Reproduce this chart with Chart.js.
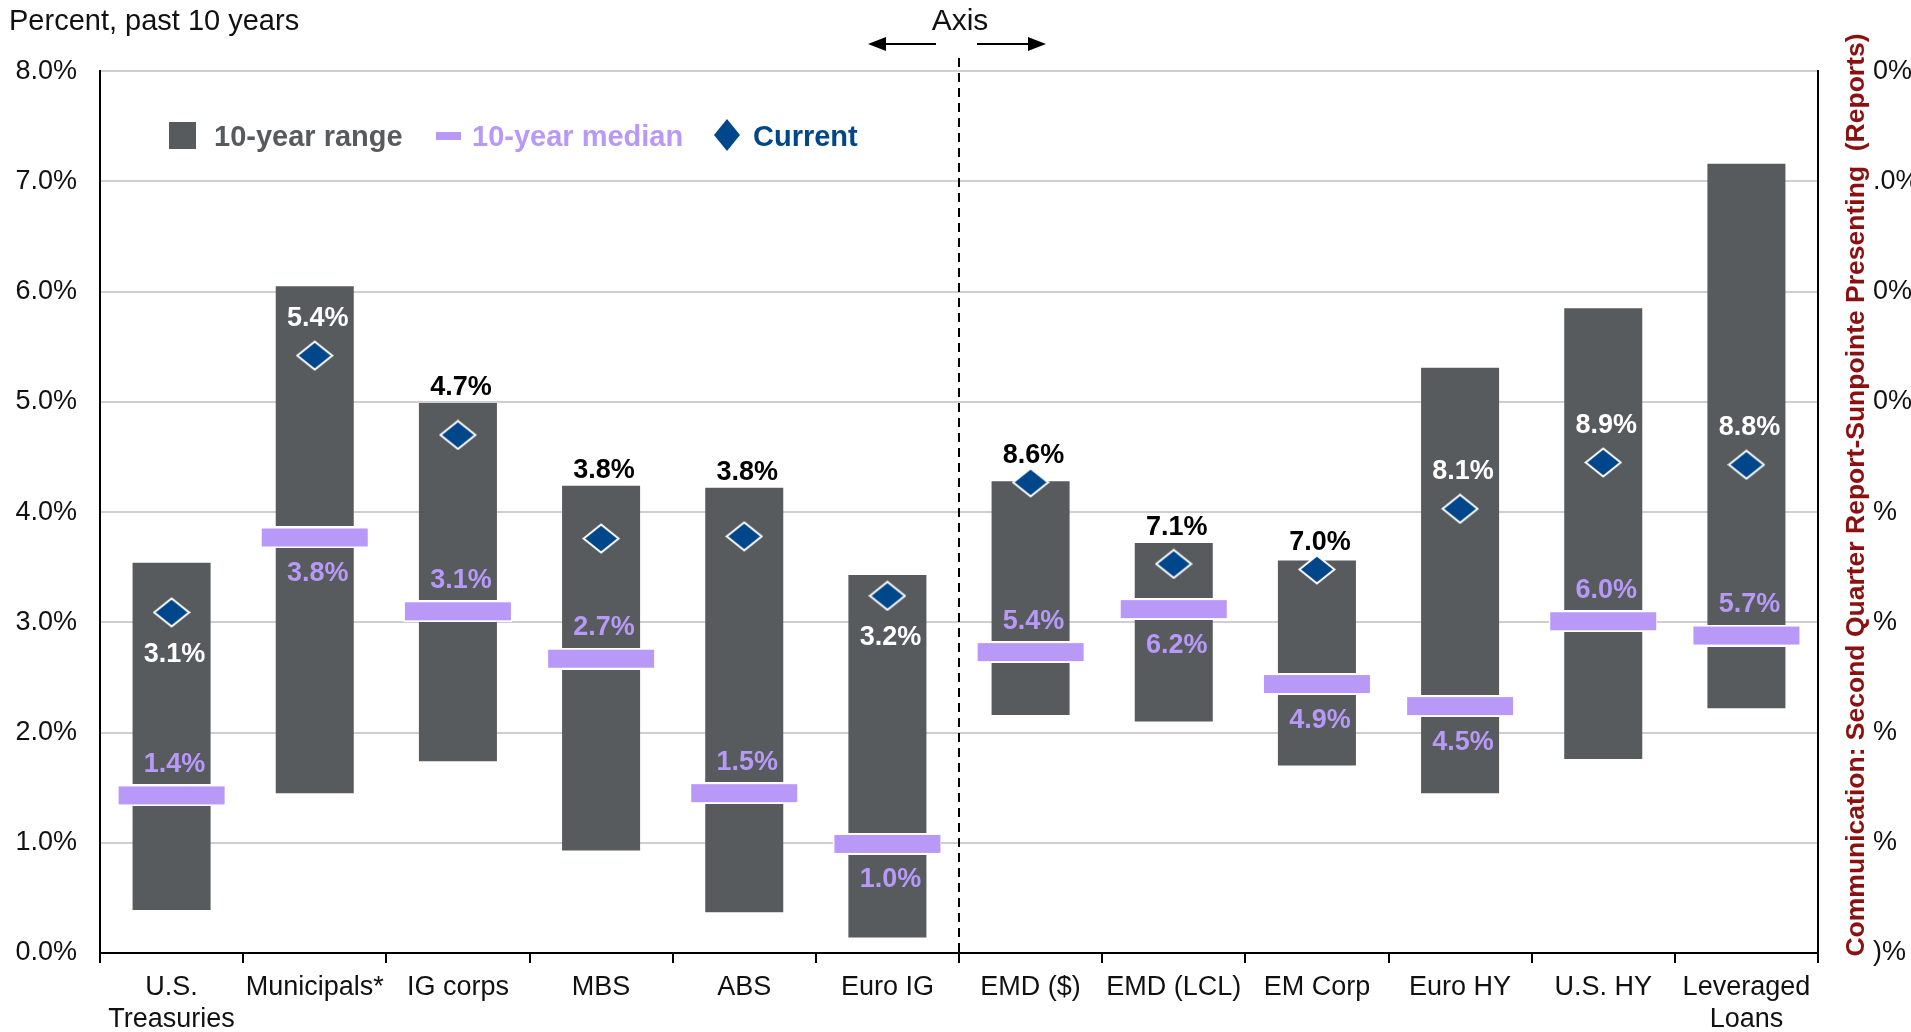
<!DOCTYPE html>
<html>
<head>
<meta charset="utf-8">
<script src="https://cdn.jsdelivr.net/npm/chart.js@4.4.1/dist/chart.umd.min.js"></script>
<style>
  html, body { margin: 0; padding: 0; background: #fff; overflow: hidden; }
  canvas { display: block; }
</style>
</head>
<body>
<canvas id="myChart" width="1911" height="1032"></canvas>
<script>
const FONT = 'Arial, "Liberation Sans", sans-serif';
const GREY = '#575b5e';
const PURPLE = '#b899f7';
const NAVY = '#00468b';

const categories = [['U.S.', 'Treasuries'], 'Municipals*', 'IG corps', 'MBS', 'ABS', 'Euro IG',
  'EMD ($)', 'EMD (LCL)', 'EM Corp', 'Euro HY', 'U.S. HY', ['Leveraged', 'Loans']];

// 10-year range (low / high), median and current, percent
const rangeLow  = [0.39, 1.45, 1.74, 0.93, 0.37, 0.14, 2.16, 2.10, 1.70, 1.45, 1.76, 2.22];
const rangeHigh = [3.54, 6.05, 4.99, 4.24, 4.22, 3.43, 4.28, 3.72, 3.56, 5.31, 5.85, 7.16];
const median10y = [1.43, 3.77, 3.10, 2.67, 1.45, 0.99, 2.73, 3.12, 2.44, 2.24, 3.01, 2.88];
const current   = [3.09, 5.42, 4.70, 3.76, 3.78, 3.24, 4.27, 3.53, 3.48, 4.03, 4.45, 4.43];

const currentLabels = ['3.1%', '5.4%', '4.7%', '3.8%', '3.8%', '3.2%', '8.6%', '7.1%', '7.0%', '8.1%', '8.9%', '8.8%'];
const medianLabels  = ['1.4%', '3.8%', '3.1%', '2.7%', '1.5%', '1.0%', '5.4%', '6.2%', '4.9%', '4.5%', '6.0%', '5.7%'];

const yTickLabels = ['0.0%', '1.0%', '2.0%', '3.0%', '4.0%', '5.0%', '6.0%', '7.0%', '8.0%'];
// right axis labels, as far as they show (bottom to top)
const rightTickLabels = [')%', '%', '%', '%', '%', '0%', '0%', '.0%', '0%'];

// where each label sits
const currentPos = ['below', 'above', 'top', 'top', 'top', 'below', 'top', 'top', 'top', 'above', 'above', 'above'];
const medianPos  = ['above', 'below', 'above', 'above', 'above', 'below', 'above', 'below', 'below', 'below', 'above', 'above'];

// point images
const diamond = document.createElement('canvas');
diamond.width = 38; diamond.height = 31;
(function () {
  const c = diamond.getContext('2d');
  c.beginPath();
  c.moveTo(19, 1.5); c.lineTo(36.5, 15.5); c.lineTo(19, 29.5); c.lineTo(1.5, 15.5); c.closePath();
  c.fillStyle = NAVY; c.fill();
  c.strokeStyle = '#fff'; c.lineWidth = 2; c.stroke();
})();

const medianMark = document.createElement('canvas');
medianMark.width = 108; medianMark.height = 22;
(function () {
  const c = medianMark.getContext('2d');
  c.fillStyle = '#fff'; c.fillRect(0, 0, 108, 22);
  c.fillStyle = PURPLE; c.fillRect(1, 2, 106, 18);
})();

const labelPlugin = {
  id: 'value_labels',
  afterDatasetsDraw: (chart) => {
    const ctx = chart.ctx;
    const xs = chart.scales.x, ys = chart.scales.y;
    ctx.save();
    ctx.font = 'bold 27px ' + FONT;
    ctx.textAlign = 'center';
    ctx.textBaseline = 'middle';
    for (let i = 0; i < current.length; i++) {
      const px = xs.getPixelForValue(i) + 3;
      const cy = ys.getPixelForValue(current[i]);
      let ly, col;
      if (currentPos[i] == 'top') {
        const top = Math.min(ys.getPixelForValue(rangeHigh[i]), cy - 12);
        ly = top - 15; col = '#000';
      } else if (currentPos[i] == 'above') {
        ly = cy - 37; col = '#fff';
      } else {
        ly = cy + 42; col = '#fff';
      }
      ctx.fillStyle = col;
      ctx.fillText(currentLabels[i], px, ly);

      const my = ys.getPixelForValue(median10y[i]);
      ctx.fillStyle = PURPLE;
      ctx.fillText(medianLabels[i], px, medianPos[i] == 'above' ? my - 31 : my + 36);
    }
    ctx.restore();
  }
};

const decorPlugin = {
  id: 'decor',
  beforeDatasetsDraw: (chart) => {
    const ctx = chart.ctx;
    const xs = chart.scales.x;
    const xm = (xs.getPixelForValue(5) + xs.getPixelForValue(6)) / 2;
    ctx.save();
    ctx.strokeStyle = '#000';
    ctx.lineWidth = 2;
    ctx.setLineDash([9, 6]);
    ctx.beginPath();
    ctx.moveTo(xm, 58);
    ctx.lineTo(xm, chart.chartArea.bottom);
    ctx.stroke();
    ctx.restore();
  },
  afterDraw: (chart) => {
    const ctx = chart.ctx;
    ctx.save();
    ctx.textBaseline = 'middle';

    // unit note
    ctx.font = '29px ' + FONT;
    ctx.fillStyle = '#111';
    ctx.textAlign = 'left';
    ctx.fillText('Percent, past 10 years', 9, 22);

    // "Axis" with arrows
    ctx.textAlign = 'center';
    ctx.font = '30px ' + FONT;
    ctx.fillText('Axis', 960, 22);
    ctx.strokeStyle = '#000';
    ctx.fillStyle = '#000';
    ctx.lineWidth = 2;
    ctx.beginPath();
    ctx.moveTo(936, 44); ctx.lineTo(884, 44);
    ctx.moveTo(977, 44); ctx.lineTo(1030, 44);
    ctx.stroke();
    ctx.beginPath();
    ctx.moveTo(868, 44); ctx.lineTo(886, 37); ctx.lineTo(886, 51); ctx.closePath();
    ctx.moveTo(1046, 44); ctx.lineTo(1028, 37); ctx.lineTo(1028, 51); ctx.closePath();
    ctx.fill();

    // legend
    ctx.textAlign = 'left';
    ctx.font = 'bold 29px ' + FONT;
    ctx.fillStyle = GREY;
    ctx.fillRect(169, 122, 27, 27);
    ctx.fillText('10-year range', 214, 138);
    ctx.fillStyle = PURPLE;
    ctx.fillRect(436, 132, 25, 8);
    ctx.fillText('10-year median', 472, 138);
    ctx.fillStyle = NAVY;
    ctx.beginPath();
    ctx.moveTo(727, 119); ctx.lineTo(740, 135); ctx.lineTo(727, 151); ctx.lineTo(714, 135); ctx.closePath();
    ctx.fill();
    ctx.fillText('Current', 753, 138);

    // right axis title
    ctx.translate(1857, 495);
    ctx.rotate(-Math.PI / 2);
    ctx.textAlign = 'center';
    ctx.font = 'bold 26.5px ' + FONT;
    ctx.fillStyle = '#8b1010';
    ctx.fillText('Communication: Second Quarter Report-Sunpointe Presenting  (Reports)', 0, 0);
    ctx.restore();
  }
};

const config = {
  data: {
    labels: categories,
    datasets: [
      {
        type: 'line',
        label: 'Current',
        data: current,
        showLine: false,
        pointStyle: diamond,
        order: 1
      },
      {
        type: 'line',
        label: '10-year median',
        data: median10y,
        showLine: false,
        pointStyle: medianMark,
        order: 2
      },
      {
        type: 'bar',
        label: '10-year range',
        data: rangeLow.map((v, i) => [v, rangeHigh[i]]),
        backgroundColor: GREY,
        borderWidth: 0,
        borderSkipped: false,
        grouped: false,
        barPercentage: 0.545,
        categoryPercentage: 1,
        order: 3
      }
    ]
  },
  options: {
    responsive: false,
    animation: false,
    layout: { padding: { top: 62, left: 0, right: 0, bottom: 0 } },
    plugins: {
      legend: { display: false },
      tooltip: { enabled: false }
    },
    scales: {
      x: {
        offset: true,
        grid: { display: true, offset: true, drawOnChartArea: false, drawTicks: true, tickLength: 10, color: '#000', lineWidth: 2 },
        border: { display: true, color: '#000', width: 2 },
        ticks: { font: { family: FONT, size: 27 }, color: '#111', maxRotation: 0, autoSkip: false, padding: 8 },
        afterFit: (s) => { s.height = 79; }
      },
      y: {
        position: 'left',
        min: 0, max: 8,
        grid: { color: '#cfcfcf', lineWidth: 2, drawTicks: false },
        border: { display: true, color: '#000', width: 2 },
        ticks: {
          stepSize: 1, padding: 23, color: '#111',
          font: { family: FONT, size: 27 },
          callback: (v, idx) => yTickLabels[idx]
        },
        afterFit: (s) => { s.width = 100; }
      },
      y2: {
        position: 'right',
        min: 0, max: 8,
        grid: { display: false, drawTicks: false },
        border: { display: true, color: '#000', width: 2 },
        ticks: {
          stepSize: 1, padding: 55, color: '#111',
          font: { family: FONT, size: 27 },
          callback: (v, idx) => rightTickLabels[idx]
        },
        afterFit: (s) => { s.width = 93; }
      }
    }
  },
  plugins: [labelPlugin, decorPlugin]
};

const ctx = document.getElementById('myChart').getContext('2d');
const myChart = new Chart(ctx, config);
</script>
</body>
</html>
